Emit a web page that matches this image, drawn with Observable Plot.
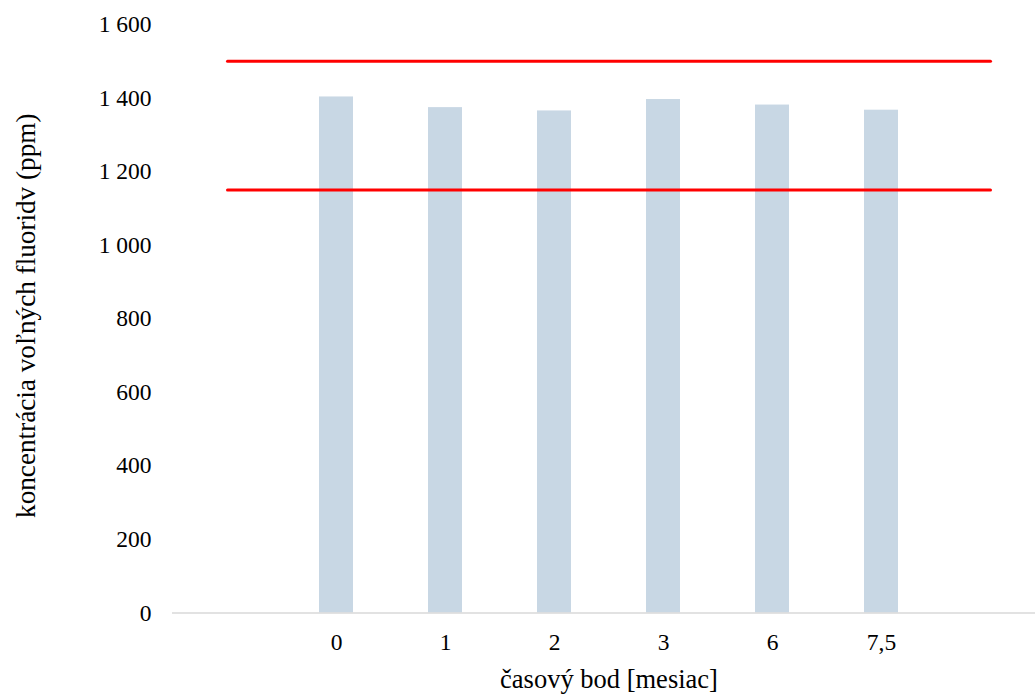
<!DOCTYPE html>
<html>
<head>
<meta charset="utf-8">
<script src="https://cdn.jsdelivr.net/npm/d3@7"></script>
<script src="https://cdn.jsdelivr.net/npm/@observablehq/plot@0.6"></script>
<style>
  html, body { margin: 0; padding: 0; background: #fff; }
</style>
</head>
<body>
<div id="chart"></div>
<script>
// Categories (the outer two are empty Excel slots that carry the limit lines)
const categories = ["L", "0", "1", "2", "3", "6", "7,5", "R"];
const barCategories = ["0", "1", "2", "3", "6", "7,5"];
const barValues = [1403, 1374, 1365, 1396, 1381, 1367];
const upperLimit = 1500;
const lowerLimit = 1150;
const yTicks = [0, 200, 400, 600, 800, 1000, 1200, 1400, 1600];
const xTitle = "časový bod [mesiac]";
const yTitle = "koncentrácia voľných fluoridv (ppm)";

const bars = barCategories.map((c, i) => ({cat: c, value: barValues[i]}));
const limitLines = [
  ...categories.map(c => ({cat: c, value: upperLimit, series: "upper"})),
  ...categories.map(c => ({cat: c, value: lowerLimit, series: "lower"}))
];

const fmt = d3.formatLocale({thousands: " ", grouping: [3], decimal: ",", currency: ["", ""]}).format(",");
const FONT = "Liberation Serif";
const FS = 23.5;

const chart = Plot.plot({
  width: 1035,
  height: 695,
  marginLeft: 172,
  marginRight: 0,
  marginTop: 24,
  marginBottom: 82.5,
  style: {fontFamily: FONT, fontSize: FS + "px", color: "#000", background: "#fff"},
  x: {
    type: "band",
    domain: categories,
    range: [172, 1045.6],
    paddingInner: 0.689,
    paddingOuter: 0.3445,
    axis: null
  },
  y: {
    domain: [0, 1600],
    axis: null
  },
  marks: [
    Plot.axisY(yTicks, {tickSize: 0, tickPadding: 21, tickFormat: fmt, label: null, fontFamily: FONT, fontSize: FS}),
    Plot.axisX(barCategories, {tickSize: 0, tickPadding: 20, label: null, fontFamily: FONT, fontSize: FS}),
    Plot.barY(bars, {x: "cat", y: "value", fill: "#c8d7e4"}),
    Plot.ruleY([0], {stroke: "#d9d9d9", strokeWidth: 1.5}),
    Plot.line(limitLines, {x: "cat", y: "value", z: "series", stroke: "#ff0000", strokeWidth: 3, strokeLinecap: "round"}),
    Plot.text([xTitle], {frameAnchor: "bottom", textAnchor: "middle", lineAnchor: "middle", dx: 5, dy: 67, fontFamily: FONT, fontSize: 26.5, fill: "#000"}),
    Plot.text([yTitle], {frameAnchor: "left", textAnchor: "middle", lineAnchor: "middle", rotate: -90, dx: -146, dy: -3, fontFamily: FONT, fontSize: 27.2, fill: "#000"})
  ]
});
document.getElementById("chart").appendChild(chart);
</script>
</body>
</html>
